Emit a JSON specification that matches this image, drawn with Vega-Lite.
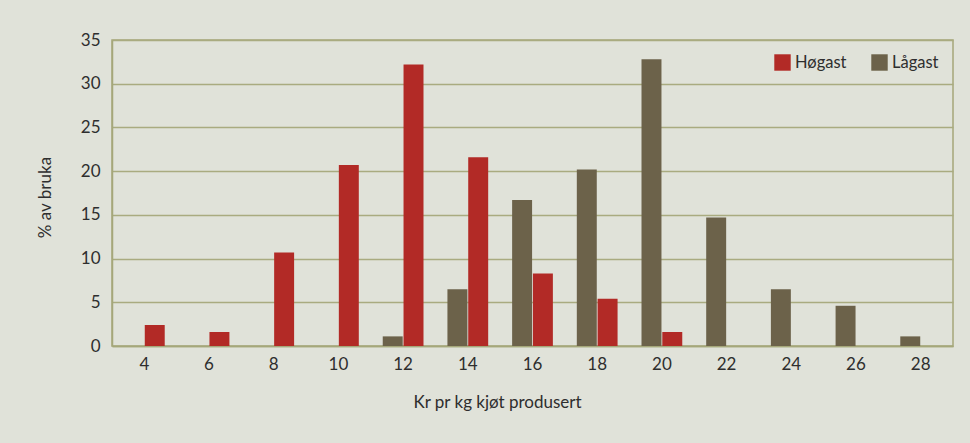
{
  "$schema": "https://vega.github.io/schema/vega-lite/v6.json",
  "autosize": {"type": "none"},
  "width": 841,
  "height": 306,
  "padding": {"left": 112, "top": 40, "right": 17, "bottom": 97},
  "background": "#E0E2D9",
  "config": {
    "font": "Lato",
    "view": {"stroke": "#A5A77A", "strokeWidth": 1.5},
    "axis": {
      "labelFont": "Lato",
      "titleFont": "Lato",
      "labelColor": "#2E2E2E",
      "titleColor": "#2E2E2E",
      "titleFontWeight": "normal",
      "labelFontSize": 17,
      "titleFontSize": 17,
      "ticks": false,
      "domainColor": "#A5A77A",
      "domainWidth": 1.5,
      "gridColor": "#A9AB80",
      "gridWidth": 1.5
    },
    "legend": {"labelFont": "Lato", "labelFontSize": 16.5, "labelColor": "#2E2E2E"}
  },
  "data": {
    "values": [
      {"kr": 4, "gruppe": "Høgast", "prosent": 2.4},
      {"kr": 6, "gruppe": "Høgast", "prosent": 1.6},
      {"kr": 8, "gruppe": "Høgast", "prosent": 10.7},
      {"kr": 10, "gruppe": "Høgast", "prosent": 20.7},
      {"kr": 12, "gruppe": "Høgast", "prosent": 32.2},
      {"kr": 14, "gruppe": "Høgast", "prosent": 21.6},
      {"kr": 16, "gruppe": "Høgast", "prosent": 8.3},
      {"kr": 18, "gruppe": "Høgast", "prosent": 5.4},
      {"kr": 20, "gruppe": "Høgast", "prosent": 1.6},
      {"kr": 12, "gruppe": "Lågast", "prosent": 1.1},
      {"kr": 14, "gruppe": "Lågast", "prosent": 6.5},
      {"kr": 16, "gruppe": "Lågast", "prosent": 16.7},
      {"kr": 18, "gruppe": "Lågast", "prosent": 20.2},
      {"kr": 20, "gruppe": "Lågast", "prosent": 32.8},
      {"kr": 22, "gruppe": "Lågast", "prosent": 14.7},
      {"kr": 24, "gruppe": "Lågast", "prosent": 6.5},
      {"kr": 26, "gruppe": "Lågast", "prosent": 4.6},
      {"kr": 28, "gruppe": "Lågast", "prosent": 1.1}
    ]
  },
  "mark": {"type": "bar"},
  "encoding": {
    "x": {
      "field": "kr",
      "type": "ordinal",
      "scale": {"domain": [4, 6, 8, 10, 12, 14, 16, 18, 20, 22, 24, 26, 28], "paddingInner": 0.37, "paddingOuter": 0.185},
      "axis": {"labelAngle": 0, "labelPadding": 10, "title": "Kr pr kg kjøt produsert", "titlePadding": 22, "titleX": 385, "grid": false}
    },
    "xOffset": {
      "field": "gruppe",
      "scale": {"domain": ["Lågast", "Høgast"], "paddingInner": 0.04}
    },
    "y": {
      "field": "prosent",
      "type": "quantitative",
      "scale": {"domain": [0, 35]},
      "axis": {"values": [0, 5, 10, 15, 20, 25, 30, 35], "title": "% av bruka", "titlePadding": 26, "titleY": 157, "labelPadding": 12, "domain": true}
    },
    "color": {
      "field": "gruppe",
      "type": "nominal",
      "scale": {"domain": ["Høgast", "Lågast"], "range": ["#B22A26", "#6C624A"]},
      "legend": {
        "title": null,
        "orient": "top-right",
        "direction": "horizontal",
        "symbolType": "square",
        "symbolSize": 270,
        "symbolStrokeWidth": 0,
        "columnPadding": 24,
        "offset": 14,
        "padding": 0
      }
    }
  }
}
